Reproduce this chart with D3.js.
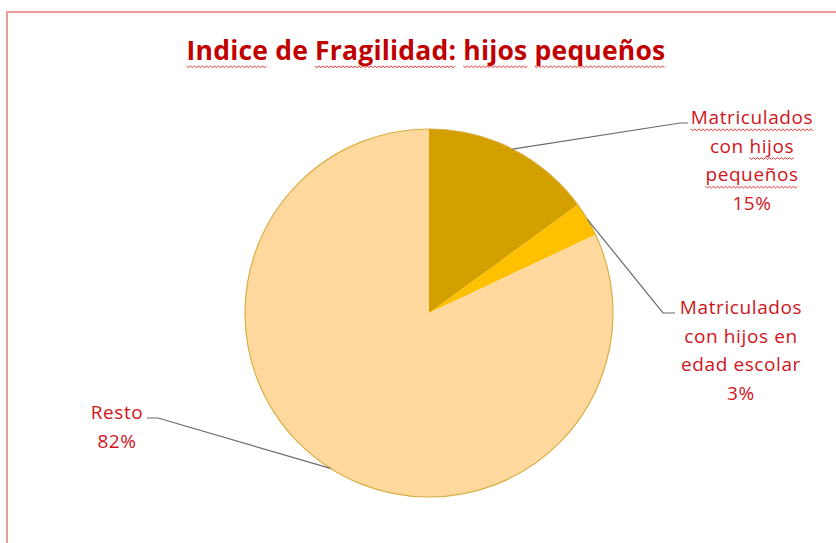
<!DOCTYPE html>
<html>
<head>
<meta charset="utf-8">
<script src="https://cdn.jsdelivr.net/npm/d3@7"></script>
<style>
  body { margin: 0; background: #fff; }
  svg { display: block; }
</style>
</head>
<body>
<svg id="pieChart"></svg>
<script>
(function () {
    const W = 836;
    const H = 543;

    // data
    const categories = ["Matriculados con hijos pequeños", "Matriculados con hijos en edad escolar", "Resto"];
    const values = [15, 3, 82];
    const labelLines = [
        ["Matriculados", "con hijos", "pequeños", "15%"],
        ["Matriculados", "con hijos en", "edad escolar", "3%"],
        ["Resto", "82%"]
    ];
    const title = "Indice de Fragilidad: hijos pequeños";

    const colors = ["#D4A000", "#FFC000", "#FED89C"];
    const red = "#D0141C";

    // manual label placement (like the Excel layout)
    const labelPos = [
        { x: 752, y: 124, lineTo: [688, 123], elbow: [680, 123] },
        { x: 741, y: 314, lineTo: [675, 313], elbow: [663, 313] },
        { x: 117, y: 419, lineTo: [147, 418], elbow: [158, 418] }
    ];

    const cx = 429, cy = 313, r = 184;

    const svg = d3.select("#pieChart")
        .attr("width", W)
        .attr("height", H);

    // frame
    svg.append("rect")
        .attr("x", 7).attr("y", 12)
        .attr("width", W).attr("height", H)
        .attr("fill", "none")
        .attr("stroke", "#EC9A9A")
        .attr("stroke-width", 2);

    const pie = d3.pie().sort(null).value(d => d);
    const arcs = pie(values);
    const arc = d3.arc().innerRadius(0).outerRadius(r);

    const g = svg.append("g").attr("transform", `translate(${cx},${cy})`);

    g.selectAll("path")
        .data(arcs)
        .enter().append("path")
        .attr("d", arc)
        .attr("fill", (d, i) => colors[i])
        .append("title")
        .text((d, i) => categories[i]);

    // thin gold outline around the pie
    g.append("circle")
        .attr("r", r)
        .attr("fill", "none")
        .attr("stroke", "#D8AE45")
        .attr("stroke-width", 1.2);

    // leader lines
    arcs.forEach((d, i) => {
        const a = (d.startAngle + d.endAngle) / 2;
        const p0 = [cx + r * Math.sin(a), cy - r * Math.cos(a)];
        const lp = labelPos[i];
        svg.append("path")
            .attr("d", d3.line()([p0, lp.elbow, lp.lineTo]))
            .attr("fill", "none")
            .attr("stroke", "#6b6b6b")
            .attr("stroke-width", 1.2);
    });

    // wavy spell-check underline
    function squiggle(x0, x1, y) {
        const pts = [];
        let k = 0;
        for (let x = x0; x <= x1; x += 2) {
            pts.push([x, y + (k % 2 === 0 ? 0 : 1.6)]);
            k++;
        }
        svg.append("path")
            .attr("d", d3.line()(pts))
            .attr("fill", "none")
            .attr("stroke", "#E02020")
            .attr("stroke-width", 0.9);
    }

    function textWithSquiggle(sel, words, skip, yOff) {
        // underline each word except those in skip
        const node = sel.node();
        let idx = 0;
        words.forEach(w => {
            const start = idx;
            idx += w.length;
            if (!skip.includes(w)) {
                const s = node.getStartPositionOfChar(start);
                const e = node.getEndPositionOfChar(idx - 1);
                squiggle(s.x, e.x, s.y + yOff);
            }
            idx += 1;
        });
    }

    // title
    const t = svg.append("text")
        .attr("x", 426)
        .attr("y", 60)
        .attr("text-anchor", "middle")
        .attr("font-family", "'Open Sans', sans-serif")
        .attr("font-weight", "bold")
        .attr("font-size", 26.5)
        .attr("letter-spacing", 0.2)
        .attr("fill", "#C00000")
        .text(title);
    textWithSquiggle(t, title.split(" "), ["de"], 6);

    // labels
    const squiggleWords = [["Matriculados", "hijos", "pequeños"], [], []];
    labelLines.forEach((lines, i) => {
        const lp = labelPos[i];
        lines.forEach((ln, j) => {
            const tx = svg.append("text")
                .attr("x", lp.x)
                .attr("y", lp.y + j * 28.7)
                .attr("text-anchor", "middle")
                .attr("font-family", "'Open Sans', sans-serif")
                .attr("font-size", 19)
                .attr("letter-spacing", 0.6)
                .attr("fill", red)
                .text(ln);
            const words = ln.split(" ");
            const skip = words.filter(w => !squiggleWords[i].includes(w));
            if (skip.length < words.length) textWithSquiggle(tx, words, skip, 5);
        });
    });
})();
</script>
</body>
</html>
